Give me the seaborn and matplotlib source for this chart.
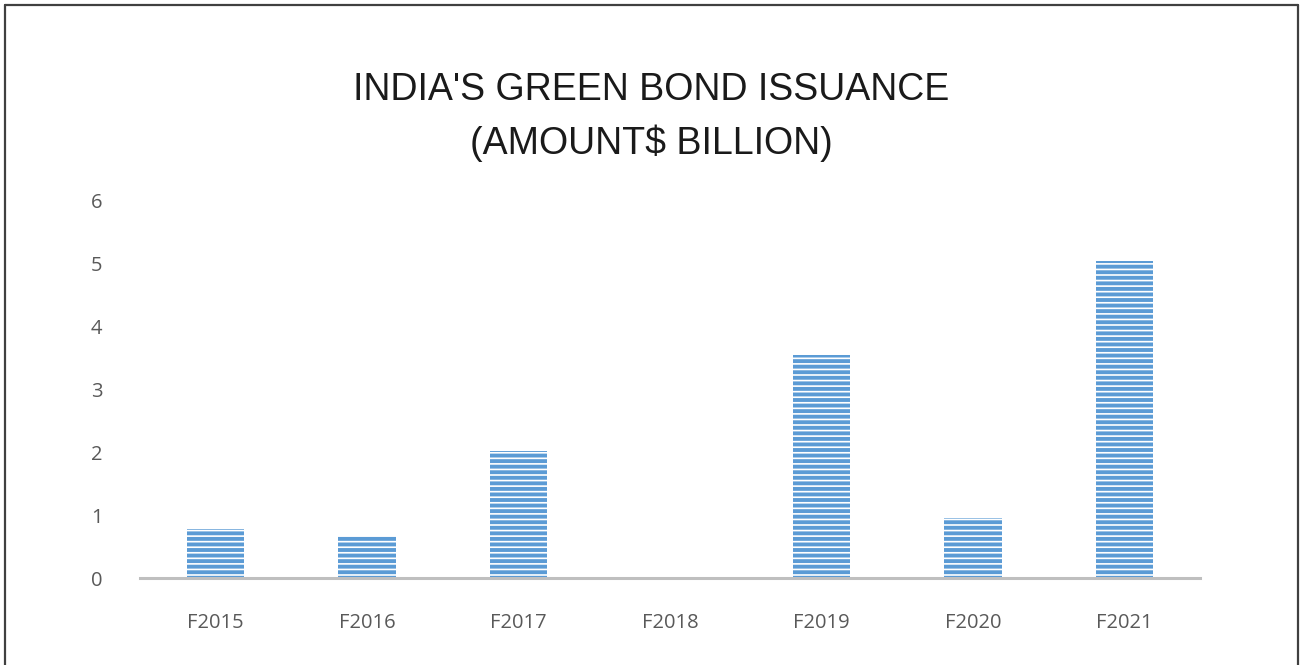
import matplotlib.pyplot as plt
import pandas as pd
import seaborn as sns
from matplotlib.lines import Line2D

years = ["F2015", "F2016", "F2017", "F2018", "F2019", "F2020", "F2021"]
amount = [0.78, 0.67, 2.02, 0.0, 3.54, 0.95, 5.03]

df = pd.DataFrame({"year": years, "amount": amount})

sns.set_style("white")
plt.rcParams["hatch.color"] = "white"
plt.rcParams["hatch.linewidth"] = 1.2

fig = plt.figure(figsize=(13.02, 6.65), dpi=100)
ax = fig.add_axes([0.1075, 0.1308, 0.8142, 0.5684])

sns.barplot(data=df, x="year", y="amount", color="#5B9BD5", width=0.38,
            saturation=1, ax=ax)
for bar in ax.patches:
    bar.set_hatch("---")
    bar.set_edgecolor("white")
    bar.set_linewidth(0)

ax.set_ylim(0, 6)
ax.set_xlim(-0.5, 6.5)
ax.set_yticks(range(0, 7))
ax.set_xlabel("")
ax.set_ylabel("")
for s in ["top", "right", "left"]:
    ax.spines[s].set_visible(False)
ax.spines["bottom"].set_color("#BFBFBF")
ax.spines["bottom"].set_linewidth(2.2)
ax.tick_params(axis="both", length=0, labelsize=14.5, labelcolor="#595959")
ax.tick_params(axis="y", pad=27)
ax.tick_params(axis="x", pad=25)
for lab in ax.get_xticklabels() + ax.get_yticklabels():
    lab.set_family("Open Sans")

fig.text(0.5, 0.865, "INDIA'S GREEN BOND ISSUANCE", ha="center", va="center",
         fontsize=27, family="Liberation Sans", color="#1a1a1a")
fig.text(0.5, 0.785, "(AMOUNT$ BILLION)", ha="center", va="center",
         fontsize=27, family="Liberation Sans", color="#1a1a1a")

# outer frame
for xs, ys in [([0.0035, 0.0035], [0, 0.993]), ([0.0035, 0.997], [0.993, 0.993]),
               ([0.997, 0.997], [0, 0.993])]:
    fig.add_artist(Line2D(xs, ys, color="#404040", lw=1.6, transform=fig.transFigure))

fig.savefig("out.png", dpi=100)
